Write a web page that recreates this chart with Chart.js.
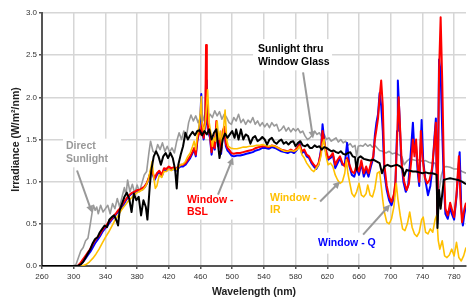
<!DOCTYPE html>
<html>
<head>
<meta charset="utf-8">
<script src="https://cdn.jsdelivr.net/npm/chart.js@4/dist/chart.umd.min.js"></script>
<style>
  body { margin: 0; background: #fff; }
  canvas { display: block; }
</style>
</head>
<body>
<canvas id="spectrum" width="468" height="300"></canvas>
<script>
// wavelength (nm), irradiance (W/m2/nm) pairs
const directSunlight = [[260,0],[300,0],[303,0.02],[306,0.1],[309,0.18],[312,0.22],[315,0.3],[318,0.33],[321,0.5],[323,0.62],[325,0.72],[327,0.66],[329,0.7],[331,0.62],[334,0.72],[337,0.64],[340,0.68],[343,0.72],[346,0.62],[349,0.74],[352,0.68],[355,0.8],[358,0.7],[361,0.82],[364,0.93],[366,0.84],[368,1.02],[371,0.88],[374,0.97],[377,0.86],[380,0.96],[383,0.88],[386,0.98],[389,1.08],[392,1.12],[395,1.35],[397,1.48],[400,1.36],[403,1.34],[406,1.44],[409,1.38],[412,1.46],[415,1.36],[418,1.42],[421,1.35],[424,1.4],[427,1.34],[430,1.48],[433,1.58],[436,1.5],[439,1.6],[442,1.52],[445,1.7],[448,1.79],[451,1.72],[454,1.78],[457,1.7],[460,1.76],[463,1.72],[466,1.82],[469,1.74],[472,1.8],[475,1.76],[478,1.84],[481,1.78],[484,1.83],[487,1.74],[490,1.8],[493,1.76],[496,1.7],[499,1.68],[502,1.76],[505,1.72],[508,1.8],[511,1.7],[514,1.74],[517,1.68],[520,1.73],[523,1.7],[526,1.76],[529,1.68],[532,1.72],[535,1.66],[538,1.7],[541,1.65],[544,1.69],[547,1.64],[550,1.7],[553,1.66],[556,1.68],[559,1.6],[562,1.62],[565,1.66],[568,1.6],[571,1.64],[574,1.59],[577,1.63],[580,1.6],[583,1.63],[586,1.58],[589,1.6],[592,1.54],[595,1.5],[598,1.52],[601,1.55],[604,1.6],[607,1.56],[610,1.58],[613,1.53],[616,1.56],[619,1.5],[622,1.52],[625,1.48],[628,1.5],[631,1.52],[634,1.47],[637,1.5],[640,1.46],[643,1.48],[646,1.43],[649,1.45],[652,1.41],[655,1.43],[657,1.3],[659,1.42],[662,1.43],[665,1.42],[668,1.45],[671,1.42],[674,1.44],[677,1.41],[680,1.43],[683,1.4],[686,1.37],[690,1.36],[694,1.34],[698,1.36],[702,1.33],[706,1.34],[710,1.32],[714,1.3],[717,1.2],[720,1.24],[724,1.27],[728,1.26],[732,1.25],[736,1.26],[740,1.24],[744,1.25],[748,1.23],[752,1.22],[756,1.22],[758,1.15],[760,0.85],[762,0.95],[764,1.08],[767,1.17],[770,1.18],[775,1.17],[780,1.15],[785,1.15],[790,1.12],[795,1.1]];

const windowGlass = [[260,0],[305,0],[309,0.02],[312,0.05],[315,0.1],[318,0.15],[321,0.2],[324,0.27],[327,0.32],[330,0.34],[333,0.4],[336,0.44],[339,0.48],[342,0.46],[345,0.55],[348,0.58],[351,0.6],[354,0.54],[356,0.48],[358,0.66],[361,0.74],[364,0.82],[367,0.87],[370,0.8],[373,0.64],[376,0.86],[379,0.78],[382,0.82],[385,0.6],[388,0.78],[391,0.7],[393,0.55],[396,0.95],[398,1.14],[401,1.3],[404,1.36],[407,1.3],[410,1.2],[413,1.3],[416,1.34],[419,1.28],[422,1.34],[425,1.28],[428,1.14],[430,0.92],[432,1.2],[435,1.32],[438,1.42],[441,1.58],[444,1.5],[447,1.55],[450,1.59],[453,1.55],[456,1.6],[459,1.61],[462,1.55],[465,1.6],[468,1.56],[471,1.62],[474,1.5],[477,1.58],[480,1.62],[482,1.45],[484,1.28],[486,1.38],[488,1.5],[491,1.57],[494,1.52],[497,1.56],[500,1.6],[503,1.52],[505,1.62],[508,1.5],[511,1.62],[514,1.5],[517,1.56],[520,1.54],[523,1.45],[526,1.52],[529,1.54],[532,1.48],[535,1.5],[538,1.53],[541,1.5],[544,1.44],[547,1.5],[550,1.52],[553,1.47],[556,1.45],[559,1.48],[562,1.5],[565,1.45],[568,1.47],[571,1.44],[574,1.47],[577,1.48],[580,1.42],[583,1.46],[586,1.48],[589,1.43],[592,1.42],[595,1.44],[598,1.4],[601,1.4],[604,1.43],[607,1.41],[610,1.42],[613,1.38],[616,1.41],[619,1.4],[622,1.38],[625,1.36],[628,1.37],[631,1.35],[634,1.34],[637,1.36],[640,1.33],[643,1.32],[646,1.34],[649,1.35],[652,1.3],[655,1.29],[657,1.14],[659,1.28],[662,1.3],[666,1.27],[670,1.26],[674,1.25],[678,1.26],[682,1.24],[686,1.22],[689,1.1],[692,1.18],[696,1.2],[700,1.18],[704,1.19],[708,1.2],[712,1.18],[715,1.15],[717,1.07],[720,1.14],[724,1.13],[728,1.12],[732,1.12],[736,1.11],[740,1.1],[744,1.11],[748,1.1],[752,1.1],[756,1.09],[758,1.08],[759,0.45],[761,0.9],[763,0.68],[765,0.85],[767,1.02],[770,1.03],[775,1.04],[780,1.03],[785,1.02],[790,1.0],[795,0.97]];

const windowBSL = [[260,0],[305,0],[308,0.03],[311,0.07],[314,0.11],[317,0.15],[320,0.19],[323,0.24],[326,0.29],[329,0.33],[332,0.36],[335,0.41],[338,0.45],[341,0.48],[344,0.52],[347,0.55],[350,0.59],[353,0.62],[356,0.66],[359,0.69],[362,0.74],[365,0.78],[368,0.82],[371,0.85],[374,0.87],[377,0.88],[380,0.9],[383,0.9],[386,0.92],[389,0.94],[392,0.98],[395,1.05],[398,1.14],[400,1.1],[402,1.04],[405,1.1],[408,1.13],[411,1.08],[414,1.16],[417,1.15],[420,1.18],[423,1.16],[426,1.17],[429,1.15],[432,1.18],[435,1.2],[438,1.2],[441,1.22],[444,1.26],[447,1.3],[450,1.36],[452,1.4],[454,1.32],[456,1.5],[458,1.6],[460,1.56],[462,1.7],[464,1.52],[466,1.75],[467,2.62],[468,1.8],[470,1.6],[472,1.55],[474,1.35],[476,1.48],[478,1.4],[480,1.72],[482,1.45],[484,1.55],[486,1.36],[488,1.6],[490,1.65],[492,1.45],[494,1.4],[496,1.38],[499,1.34],[502,1.33],[506,1.34],[510,1.34],[514,1.35],[518,1.36],[522,1.37],[526,1.38],[530,1.4],[534,1.41],[538,1.42],[542,1.42],[546,1.41],[550,1.43],[554,1.42],[558,1.4],[562,1.38],[566,1.37],[570,1.36],[574,1.38],[578,1.36],[582,1.4],[585,1.44],[588,1.36],[591,1.38],[594,1.32],[597,1.3],[600,1.24],[603,1.2],[606,1.17],[609,1.22],[612,1.35],[614,1.6],[616,1.48],[618,1.38],[621,1.28],[624,1.3],[627,1.34],[630,1.2],[633,1.26],[636,1.3],[639,1.22],[642,1.18],[645,1.28],[648,1.2],[651,1.12],[654,1.1],[657,1.2],[660,1.12],[663,1.25],[666,1.1],[669,1.18],[672,1.1],[675,1.22],[678,1.3],[680,1.5],[682,1.62],[684,1.75],[686,2.0],[688,2.2],[690,1.9],[692,1.2],[695,0.95],[698,0.82],[701,0.76],[704,0.85],[706,1.0],[708,1.5],[710,2.0],[712,1.6],[714,1.2],[717,1.0],[720,0.9],[723,0.98],[726,1.25],[728,1.5],[730,1.3],[732,1.5],[734,1.2],[736,1.0],[738,1.6],[740,1.3],[743,1.05],[746,0.98],[749,1.02],[752,1.15],[755,1.45],[757,1.7],[759,0.55],[761,2.3],[763,2.95],[765,2.2],[767,1.2],[769,0.68],[772,0.6],[775,0.75],[777,0.68],[780,0.58],[783,0.85],[786,1.3],[788,0.8],[790,0.52],[793,0.68],[795,0.75]];

const windowQ = [[260,0],[306,0],[309,0.02],[312,0.05],[315,0.09],[318,0.13],[321,0.17],[324,0.22],[327,0.27],[330,0.31],[333,0.35],[336,0.4],[339,0.44],[342,0.47],[345,0.51],[348,0.55],[351,0.58],[354,0.62],[357,0.65],[360,0.69],[363,0.73],[366,0.78],[369,0.82],[372,0.85],[375,0.87],[378,0.88],[381,0.89],[384,0.9],[387,0.91],[390,0.94],[393,0.99],[396,1.08],[398,1.16],[400,1.08],[402,1.02],[405,1.08],[408,1.12],[411,1.06],[414,1.14],[417,1.13],[420,1.16],[423,1.14],[426,1.15],[429,1.13],[432,1.16],[435,1.18],[438,1.18],[441,1.2],[444,1.24],[447,1.28],[450,1.34],[452,1.38],[454,1.3],[456,1.48],[458,1.58],[460,1.8],[461,2.04],[462,1.6],[464,1.5],[466,1.7],[467,2.2],[468,1.7],[470,1.58],[472,1.52],[474,1.32],[476,1.46],[478,1.38],[480,1.65],[482,1.42],[484,1.52],[486,1.33],[488,1.55],[490,1.6],[492,1.42],[494,1.37],[496,1.35],[499,1.31],[502,1.3],[506,1.31],[510,1.31],[514,1.32],[518,1.33],[522,1.34],[526,1.35],[530,1.37],[534,1.38],[538,1.4],[542,1.4],[546,1.39],[550,1.41],[554,1.4],[558,1.38],[562,1.36],[566,1.35],[570,1.34],[574,1.36],[578,1.34],[582,1.38],[585,1.46],[588,1.34],[591,1.36],[594,1.3],[597,1.28],[600,1.22],[603,1.18],[606,1.15],[609,1.2],[612,1.38],[614,1.68],[616,1.5],[618,1.36],[621,1.26],[624,1.28],[627,1.32],[630,1.16],[633,1.22],[636,1.28],[639,1.2],[642,1.2],[645,1.46],[648,1.18],[651,1.08],[654,1.06],[657,1.16],[660,1.08],[663,1.22],[666,1.06],[669,1.14],[672,1.06],[675,1.18],[678,1.28],[680,1.55],[682,1.7],[684,1.8],[686,2.05],[688,1.9],[690,1.6],[692,1.1],[695,0.9],[698,0.78],[701,0.72],[704,0.8],[706,0.98],[708,1.6],[709,2.2],[711,1.8],[713,1.3],[716,1.0],[719,0.88],[722,0.95],[725,1.3],[728,1.7],[730,1.35],[732,1.42],[734,1.12],[736,0.95],[739,1.73],[741,1.25],[744,1.0],[747,0.84],[750,0.95],[753,1.2],[755,1.5],[757,1.75],[759,0.5],[761,2.45],[763,2.3],[765,1.6],[767,1.0],[769,0.62],[772,0.56],[775,0.7],[777,0.62],[780,0.55],[783,0.82],[787,1.35],[789,0.7],[791,0.48],[793,0.62],[795,0.72]];

const windowIR = [[260,0],[310,0],[313,0.01],[316,0.02],[320,0.05],[324,0.09],[328,0.14],[332,0.2],[336,0.27],[340,0.34],[344,0.4],[348,0.47],[352,0.54],[356,0.6],[360,0.66],[364,0.71],[368,0.76],[372,0.8],[376,0.84],[380,0.87],[384,0.89],[388,0.91],[391,0.95],[394,1.02],[397,1.15],[399,1.24],[401,1.05],[403,0.92],[405,0.95],[408,1.08],[411,1.05],[414,1.12],[417,1.12],[420,1.15],[423,1.13],[426,1.15],[429,1.14],[432,1.17],[435,1.2],[438,1.21],[441,1.24],[444,1.3],[447,1.34],[450,1.42],[452,1.48],[454,1.38],[456,1.55],[458,1.65],[460,1.85],[461,2.01],[462,1.7],[464,1.6],[466,1.68],[469,2.09],[471,1.7],[473,1.58],[475,1.42],[477,1.52],[479,1.48],[481,1.72],[483,1.5],[485,1.6],[487,1.42],[489,1.62],[491,1.85],[493,1.5],[495,1.42],[498,1.4],[502,1.39],[506,1.39],[510,1.4],[514,1.41],[518,1.41],[522,1.42],[526,1.42],[530,1.43],[534,1.43],[538,1.44],[542,1.43],[546,1.42],[550,1.43],[554,1.42],[558,1.4],[562,1.38],[566,1.36],[570,1.36],[574,1.37],[578,1.36],[582,1.38],[585,1.42],[588,1.32],[591,1.28],[594,1.22],[597,1.18],[600,1.14],[603,1.12],[606,1.16],[609,1.2],[612,1.3],[614,1.45],[616,1.5],[618,1.32],[621,1.2],[624,1.22],[627,1.18],[630,1.08],[633,1.02],[636,0.98],[639,1.0],[642,1.1],[644,1.26],[646,1.1],[648,1.0],[651,0.86],[654,0.82],[657,0.88],[660,0.98],[663,0.84],[666,0.82],[669,0.86],[671,0.96],[674,0.84],[677,0.82],[680,0.92],[683,1.1],[686,1.12],[688,0.95],[690,0.78],[692,0.64],[695,0.52],[698,0.5],[701,0.56],[704,0.7],[707,0.98],[709,0.8],[712,0.6],[715,0.44],[718,0.42],[721,0.5],[724,0.64],[727,0.46],[730,0.38],[733,0.35],[736,0.4],[739,0.55],[741,0.58],[744,0.4],[747,0.38],[750,0.44],[753,0.4],[756,0.55],[758,0.6],[760,0.3],[762,0.2],[765,0.3],[768,0.12],[771,0.1],[774,0.13],[777,0.2],[780,0.12],[783,0.28],[786,0.1],[789,0.06],[792,0.12],[795,0.22]];

const xTicks = [260, 300, 340, 380, 420, 460, 500, 540, 580, 620, 660, 700, 740, 780];
const yTicks = [0, 0.5, 1, 1.5, 2, 2.5, 3];

const FONT = "'Liberation Sans', Arial, sans-serif";
const toPoints = arr => arr.map(([x, y]) => ({x, y}));

// callout labels drawn on top of the plot, placed in data units
const callouts = [
  {lines: ['Direct', 'Sunlight'], color: '#999999', at: [290.3, 1.417],
   box: [286.5, 1.51, 359.7, 1.17], arrow: [304.2, 1.132, 323.1, 0.633]},
  {lines: ['Sunlight thru', 'Window Glass'], color: '#000000', at: [532.6, 2.569],
   box: [526.3, 2.69, 626, 2.32], arrow: [589.4, 2.296, 602, 1.512]},
  {lines: ['Window -', 'BSL'], color: '#ff0000', at: [443, 0.787],
   box: [439.2, 0.906, 504.9, 0.55], arrow: [482.1, 0.847, 501.1, 1.286]},
  {lines: ['Window -', 'IR'], color: '#ffc000', at: [547.8, 0.81],
   box: [542.7, 0.918, 613.4, 0.574], arrow: [610.9, 0.764, 636.1, 1.001]},
  {lines: ['Window - Q'], color: '#0000ff', at: [608.4, 0.277],
   box: [604.6, 0.396, 684.1, 0.146], arrow: [665.2, 0.372, 699.2, 0.728]}
];

function arrow(ctx, x1, y1, x2, y2) {
  const a = Math.atan2(y2 - y1, x2 - x1);
  const len = 7, w = 3.5;
  ctx.beginPath();
  ctx.moveTo(x1, y1);
  ctx.lineTo(x2 - Math.cos(a) * len * 0.8, y2 - Math.sin(a) * len * 0.8);
  ctx.stroke();
  ctx.beginPath();
  ctx.moveTo(x2, y2);
  ctx.lineTo(x2 - Math.cos(a) * len - Math.sin(a) * w, y2 - Math.sin(a) * len + Math.cos(a) * w);
  ctx.lineTo(x2 - Math.cos(a) * len + Math.sin(a) * w, y2 - Math.sin(a) * len - Math.cos(a) * w);
  ctx.closePath();
  ctx.fill();
}

const calloutPlugin = {
  id: 'callouts',
  afterDatasetsDraw(chart) {
    const {ctx, scales: {x, y}} = chart;
    ctx.save();
    callouts.forEach(c => {
      const bx1 = x.getPixelForValue(c.box[0]), by1 = y.getPixelForValue(c.box[1]);
      const bx2 = x.getPixelForValue(c.box[2]), by2 = y.getPixelForValue(c.box[3]);
      ctx.fillStyle = '#ffffff';
      ctx.fillRect(bx1, by1, bx2 - bx1, by2 - by1);

      ctx.strokeStyle = '#999999';
      ctx.fillStyle = '#999999';
      ctx.lineWidth = 2;
      arrow(ctx, x.getPixelForValue(c.arrow[0]), y.getPixelForValue(c.arrow[1]),
        x.getPixelForValue(c.arrow[2]), y.getPixelForValue(c.arrow[3]));

      ctx.font = 'bold 10.5px ' + FONT;
      ctx.textAlign = 'left';
      ctx.textBaseline = 'middle';
      ctx.fillStyle = c.color;
      const tx = x.getPixelForValue(c.at[0]), ty = y.getPixelForValue(c.at[1]);
      c.lines.forEach((t, i) => ctx.fillText(t, tx, ty + i * 12.5));
    });
    ctx.restore();
  }
};

const line = (label, data, color, width) => ({
  label, data: toPoints(data), borderColor: color, backgroundColor: color,
  borderWidth: width, pointRadius: 0, tension: 0, fill: false,
  borderJoinStyle: 'round'
});

new Chart(document.getElementById('spectrum'), {
  type: 'line',
  data: {
    // first dataset is painted last (on top)
    datasets: [
      line('Sunlight thru Window Glass', windowGlass, '#000000', 2),
      line('Window - IR', windowIR, '#ffc000', 1.6),
      line('Window - BSL', windowBSL, '#ff0000', 2),
      line('Window - Q', windowQ, '#0000ff', 2),
      line('Direct Sunlight', directSunlight, '#9a9a9a', 1.6)
    ]
  },
  options: {
    responsive: false,
    devicePixelRatio: 1,
    animation: false,
    parsing: false,
    layout: {padding: {top: 13, right: 2, left: 0, bottom: 0}},
    plugins: {legend: {display: false}, tooltip: {enabled: false}},
    scales: {
      x: {
        type: 'linear', min: 260, max: 795,
        afterBuildTicks: s => { s.ticks = xTicks.map(v => ({value: v})); },
        afterFit: s => { s.height = 34; },
        grid: {color: '#d6d6d6', lineWidth: 1.5, tickLength: 3, tickColor: '#555'},
        border: {color: '#555', width: 2},
        ticks: {font: {family: FONT, size: 8}, color: '#333', padding: 3, maxRotation: 0, autoSkip: false},
        title: {display: true, text: 'Wavelength (nm)', color: '#222',
          font: {family: FONT, size: 10.5, weight: 'bold'}, padding: {top: 0, bottom: 2}}
      },
      y: {
        min: 0, max: 3,
        afterBuildTicks: s => { s.ticks = yTicks.map(v => ({value: v})); },
        afterFit: s => { s.width = 42; },
        grid: {color: '#d6d6d6', lineWidth: 1.5, tickLength: 3, tickColor: '#555'},
        border: {color: '#555', width: 2},
        ticks: {font: {family: FONT, size: 8}, color: '#333', padding: 2,
          callback: v => v.toFixed(1)},
        title: {display: true, text: 'Irradiance (W/m²/nm)', color: '#222',
          font: {family: FONT, size: 10.5, weight: 'bold'}, padding: {top: 10, bottom: 0}}
      }
    }
  },
  plugins: [calloutPlugin]
});
</script>
</body>
</html>
